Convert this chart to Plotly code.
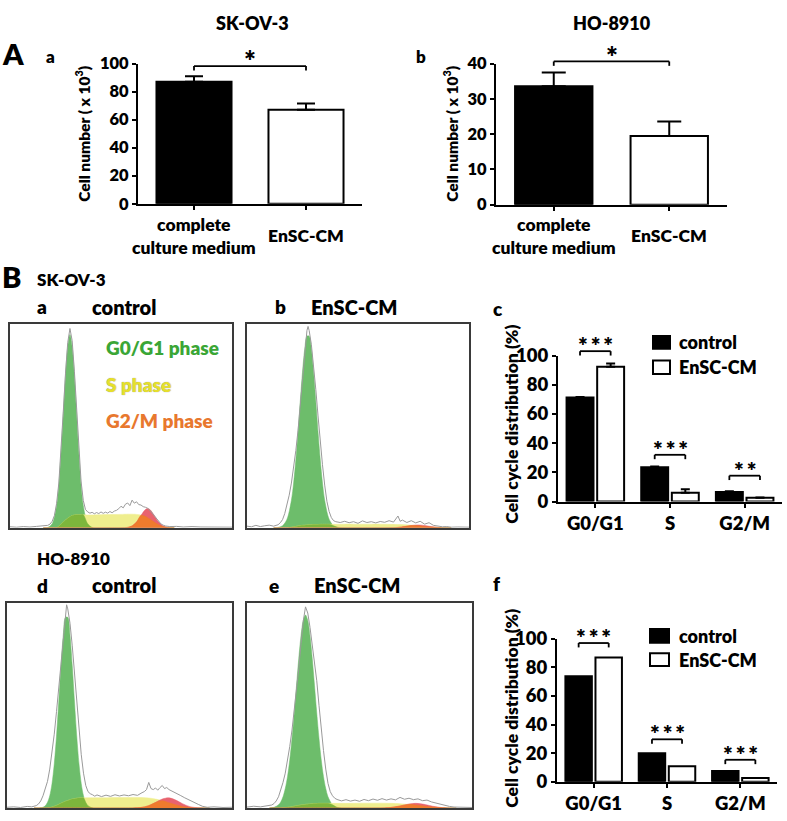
import plotly.graph_objects as go

W, H = 787, 821
FONT = "Lato"
WEIGHT = 800

# ---------------- data ----------------
# Panel A: cell numbers (x10^3)
CATS_A = ["complete<br>culture medium", "EnSC-CM"]
SKOV3_COUNT = [87.0, 67.0]
SKOV3_ERR = [4.0, 4.5]
HO8910_COUNT = [33.6, 19.5]
HO8910_ERR = [3.9, 4.1]
SIG_A = ["*", "*"]
BRACKET_A = [98.2, 40.6]          # bracket level, data units

# Panel B c / f: cell cycle distribution (%)
PHASES = ["G0/G1", "S", "G2/M"]
SKOV3_CTRL = [71.3, 23.4, 6.5]
SKOV3_CTRL_ERR = [0.3, 0.6, 0.5]
SKOV3_CM = [92.3, 6.0, 2.5]
SKOV3_CM_ERR = [2.2, 2.4, 0.3]
SIG_SKOV3 = ["***", "***", "**"]
BRACKET_SKOV3 = [103.0, 32.0, 17.7]
HO_CTRL = [73.7, 20.0, 7.5]
HO_CM = [86.8, 10.9, 2.7]
SIG_HO = ["***", "***", "***"]
BRACKET_HO = [97.0, 29.7, 15.4]
LEGEND_NAMES = ["control", "EnSC-CM"]

# Flow cytometry histograms (x: % of DNA-content axis, y: % of box height)
GRID_A = [15, 17, 19, 21, 22, 23, 24, 25, 26, 27, 28, 29, 30, 31, 32, 33, 35, 37, 40, 45, 50,
          53, 55, 57, 59, 61, 62, 63, 65, 67, 69, 71, 74]
G1_A = [0, 0.2, 2, 11, 21, 37, 56, 75, 89, 95, 89, 75, 56, 37, 21, 11, 2, 0.2, 0, 0, 0,
        0, 0, 0, 0, 0, 0, 0, 0, 0, 0, 0, 0]
S_A = [0, 0, 0, 0, 0.8, 1.8, 2.8, 3.8, 4.7, 5.4, 6, 6.3, 6.4, 6.4, 6.4, 6.4, 6.3, 6.3, 6.4, 6.5, 6.6,
       6.7, 6.7, 6.6, 6.3, 5.6, 5, 4.3, 2.8, 1.5, 0.6, 0.2, 0]
G2_A = [0, 0, 0, 0, 0, 0, 0, 0, 0, 0, 0, 0, 0, 0, 0, 0, 0, 0, 0, 0, 0,
        0.2, 0.9, 2.8, 6.1, 9.0, 9.5, 9.0, 6.1, 2.8, 0.9, 0.2, 0]
GREY_A = [(0, 0.5), (3, 0.3), (6, 0.6), (9, 0.4), (12, 0.7), (15, 0.9), (17, 1.2), (18, 1.8), (19, 3.2),
          (20, 6), (21, 12), (22, 22), (23, 38), (24, 57), (25, 76), (26, 91), (27, 98), (28, 92),
          (29, 77), (30, 57), (31, 38), (32, 23), (33, 13.5), (34, 9), (35, 7.8), (36, 7.2), (37, 7.6),
          (38, 6.9), (39, 7.5), (40, 7), (41, 7.8), (42, 7.1), (43, 7.7), (44, 7.2), (45, 8), (46, 7.4),
          (47, 8.2), (48, 8.6), (49, 9.4), (50, 10.6), (51, 9.8), (52, 11.6), (53, 12.2), (54, 10.9),
          (55, 13.6), (56, 12.1), (57, 12.8), (58, 11.4), (59, 11.2), (60, 10.4), (61, 10.1), (62, 9.6),
          (63, 8.6), (64, 7.2), (65, 5.6), (66, 4.1), (67, 2.9), (68, 1.9), (69, 1.3), (70, 0.9),
          (72, 0.6), (75, 0.7), (78, 0.4), (82, 0.6), (86, 0.4), (90, 0.3), (95, 0.4), (100, 0.3)]

GRID_B = [12, 14, 16, 18, 20, 21, 22, 23, 24, 25, 26, 27, 28, 29, 30, 31, 32, 33, 34, 35, 37, 39, 41,
          44, 48, 52, 56, 60, 64, 68, 71, 74, 77, 80, 83, 86, 89, 92]
G1_B = [0, 0.2, 1.0, 4.2, 13.5, 22, 33.4, 47.1, 62.2, 76.5, 87.9, 94.2, 94.2, 87.9, 76.5, 62.2, 47.1,
        33.4, 22, 13.5, 4.2, 1.0, 0.2, 0, 0, 0, 0, 0, 0, 0, 0, 0, 0, 0, 0, 0, 0, 0]
S_B = [0, 0, 0, 0, 0.3, 0.5, 0.7, 0.9, 1.1, 1.2, 1.3, 1.4, 1.5, 1.5, 1.6, 1.6, 1.6, 1.7, 1.7, 1.7,
       1.7, 1.7, 1.7, 1.8, 1.8, 1.8, 1.8, 1.8, 1.7, 1.6, 1.5, 1.3, 1.0, 0.7, 0.4, 0.2, 0, 0]
G2_B = [0, 0, 0, 0, 0, 0, 0, 0, 0, 0, 0, 0, 0, 0, 0, 0, 0, 0, 0, 0, 0, 0, 0, 0, 0, 0, 0, 0,
        0.02, 0.19, 0.58, 1.12, 1.4, 1.12, 0.58, 0.19, 0.02, 0]
GREY_B = [(0, 0.8), (2, 0.5), (4, 1.2), (6, 0.6), (8, 1.0), (10, 1.3), (12, 0.8), (14, 1.5), (15, 2.5),
          (16, 4), (17, 7), (18, 11), (19, 16), (20, 22), (21, 29), (22, 38), (23, 48), (24, 60),
          (25, 74), (26, 86), (27, 97), (27.5, 99), (28, 97), (29, 90), (30, 80), (31, 68), (32, 55),
          (33, 42), (34, 31), (35, 21), (36, 13), (37, 8), (38, 5), (39, 3.5), (40, 3), (42, 2.6),
          (44, 3.2), (46, 2.5), (48, 3), (50, 2.2), (52, 3.4), (54, 2.6), (56, 3), (58, 2.4), (60, 3.1),
          (62, 2.7), (64, 3.5), (66, 2.8), (68, 5.8), (69, 3.2), (70, 3.8), (72, 2.6), (74, 3.5),
          (76, 2.4), (78, 3.2), (80, 1.8), (82, 2.5), (84, 1.2), (86, 0.8), (88, 0.5), (90, 0.6),
          (92, 0.3), (95, 0.4), (100, 0.3)]

GRID_D = [12, 14, 16, 17, 18, 19, 20, 21, 22, 23, 24, 25, 26, 27, 28, 29, 30, 31, 32, 33, 34, 35, 36,
          38, 40, 44, 48, 52, 56, 60, 63, 66, 69, 72, 75, 78, 81, 84, 87, 90]
G1_D = [0, 0, 0.4, 1.1, 2.8, 6.0, 11.9, 21.5, 35, 51.7, 69.3, 84.2, 92.9, 92.9, 84.2, 69.3, 51.7, 35,
        21.5, 11.9, 6.0, 2.8, 1.1, 0.1, 0, 0, 0, 0, 0, 0, 0, 0, 0, 0, 0, 0, 0, 0, 0, 0]
S_D = [0, 0, 0, 0, 0, 0.2, 0.5, 0.9, 1.3, 1.8, 2.3, 2.8, 3.3, 3.7, 4.1, 4.4, 4.6, 4.8, 4.9, 5, 5, 5, 5,
       5, 5, 5, 5.1, 5.1, 5.2, 5.1, 4.9, 4.4, 3.6, 2.6, 1.6, 0.8, 0.3, 0, 0, 0]
G2_D = [0, 0, 0, 0, 0, 0, 0, 0, 0, 0, 0, 0, 0, 0, 0, 0, 0, 0, 0, 0, 0, 0, 0, 0, 0, 0, 0, 0,
        0.04, 0.36, 1.18, 2.73, 4.4, 4.98, 3.9, 2.15, 0.82, 0.22, 0.04, 0]
GREY_D = [(0, 0.4), (3, 0.6), (6, 0.3), (9, 0.8), (11, 0.6), (13, 1.2), (14, 2), (15, 3.5), (16, 6),
          (17, 9), (18, 13), (19, 19), (20, 27), (21, 36), (22, 47), (23, 59), (24, 72), (25, 85),
          (26, 95), (26.5, 99), (27, 97), (28, 90), (29, 79), (30, 66), (31, 52), (32, 38), (33, 26),
          (34, 17), (35, 11), (36, 8), (37, 7), (38, 6.5), (39, 5.8), (40, 6.4), (42, 5.6), (44, 6.3),
          (46, 5.7), (48, 6.5), (50, 5.9), (52, 6.4), (54, 6), (56, 6.6), (58, 6.2), (60, 7.5), (61, 8),
          (62, 9), (63, 12.5), (64, 9.5), (65, 9), (66, 9.8), (67, 8.7), (68, 10), (69, 11), (70, 9.5),
          (71, 10), (72, 9), (73, 8.5), (74, 8), (75, 7.5), (77, 6.2), (79, 5), (81, 3.8), (83, 2.8),
          (85, 1.8), (87, 0.8), (89, 0.4), (92, 0.6), (96, 0.3), (100, 0.4)]

GRID_E = [10, 12, 14, 15, 16, 17, 18, 19, 20, 21, 22, 23, 24, 25, 26, 27, 28, 29, 30, 31, 32, 33, 34,
          35, 36, 38, 40, 42, 46, 50, 55, 60, 64, 68, 72, 75, 78, 81, 84, 87, 90, 93]
G1_E = [0.07, 0.36, 1.6, 3.0, 5.5, 9.5, 15.3, 23.4, 33.9, 46.3, 59.7, 72.8, 83.9, 91.4, 94, 91.4, 83.9,
        72.8, 59.7, 46.3, 33.9, 23.4, 15.3, 9.5, 5.5, 1.6, 0.36, 0.07,
        0, 0, 0, 0, 0, 0, 0, 0, 0, 0, 0, 0, 0, 0]
S_E = [0, 0, 0, 0, 0.1, 0.2, 0.35, 0.5, 0.7, 0.9, 1.1, 1.3, 1.5, 1.6, 1.8, 1.9, 2.0, 2.1, 2.2, 2.2, 2.3,
       2.3, 2.3, 2.3, 2.3, 2.3, 2.3, 2.3, 2.3, 2.4, 2.4, 2.4, 2.3, 2.1, 1.8, 1.5, 1.1, 0.7, 0.4, 0.15, 0, 0]
G2_E = [0, 0, 0, 0, 0, 0, 0, 0, 0, 0, 0, 0, 0, 0, 0, 0, 0, 0, 0, 0, 0, 0, 0, 0, 0, 0, 0, 0, 0, 0, 0,
        0.06, 0.31, 1.02, 1.98, 2.3, 1.98, 1.27, 0.6, 0.21, 0.06, 0]
GREY_E = [(0, 0.5), (3, 0.9), (6, 0.6), (9, 1.2), (11, 1.5), (12, 2.2), (13, 3.5), (14, 5.5), (15, 8.5),
          (16, 12.5), (17, 17), (18, 23), (19, 30), (20, 38), (21, 47), (22, 57), (23, 68), (24, 80),
          (25, 91), (26, 98), (27, 95), (28, 88), (29, 80), (30, 72), (31, 62), (32, 50), (33, 38),
          (34, 28), (35, 19), (36, 12), (37, 8), (38, 6), (39, 4.8), (40, 4.2), (42, 3.5), (44, 4.1),
          (46, 3.4), (48, 3.9), (50, 3.3), (52, 4.2), (54, 3.6), (56, 4.4), (58, 3.8), (60, 4.6),
          (62, 3.9), (64, 4.5), (66, 4), (68, 5.2), (70, 4.3), (72, 4.8), (74, 4.1), (76, 4.5), (78, 3.6),
          (80, 3.9), (82, 3), (84, 2.4), (86, 1.8), (88, 1.2), (90, 0.8), (92, 0.5), (95, 0.4), (100, 0.3)]

for g, a, b, c in [(GRID_A, G1_A, S_A, G2_A), (GRID_B, G1_B, S_B, G2_B),
                   (GRID_D, G1_D, S_D, G2_D), (GRID_E, G1_E, S_E, G2_E)]:
    assert len(g) == len(a) == len(b) == len(c), (len(g), len(a), len(b), len(c))

# ---------------- styling ----------------
C_G1 = "#6dbd6b"
C_G1S = "#7db63c"
C_S = "#efee8e"
C_G2 = "#e8636f"
C_SG2 = "#ef7b2d"
C_RAW = "#9a9a9a"


def dx(a, b):
    return [a / W, b / W]


def dy(top, bottom):
    return [1 - bottom / H, 1 - top / H]


def bold(size, color="black"):
    return dict(family=FONT, size=size, color=color, weight=WEIGHT)


annotations = []
shapes = []


def txt(s, x, y, size, color="black", xanchor="left", yanchor="middle", angle=0, font_extra=None):
    f = bold(size, color)
    if font_extra:
        f.update(font_extra)
    annotations.append(dict(text=s, x=x / W, y=1 - y / H, xref="paper", yref="paper",
                            showarrow=False, xanchor=xanchor, yanchor=yanchor,
                            textangle=angle, font=f, borderpad=0))


fig = go.Figure()
layout = dict(width=W, height=H, margin=dict(l=0, r=0, t=0, b=0), autosize=False,
              paper_bgcolor="white", plot_bgcolor="rgba(0,0,0,0)",
              showlegend=False, barmode="group", bargap=0.18, bargroupgap=0.12)

# axis geometry (pixels)
AX = {
    1: dict(x=(138, 362), y=(53, 197), kind="barA", yr=(0, 100), ticks=list(range(0, 101, 20))),
    2: dict(x=(496, 727), y=(53, 198), kind="barA", yr=(0, 40), ticks=list(range(0, 41, 10))),
    3: dict(x=(10, 232), y=(321, 530), kind="box"),
    4: dict(x=(247, 469), y=(321, 530), kind="box"),
    5: dict(x=(558, 782), y=(353, 503), kind="barB", yr=(0, 100), ticks=list(range(0, 101, 20))),
    6: dict(x=(7, 232), y=(607, 818), kind="box"),
    7: dict(x=(247, 472), y=(607, 818), kind="box"),
    8: dict(x=(557, 777), y=(644, 791), kind="barB", yr=(0, 100), ticks=list(range(0, 101, 20))),
}


def name(k, axis):
    return axis if k == 1 else f"{axis}{k}"


for k, a in AX.items():
    xa = dict(domain=dx(*a["x"]), anchor=name(k, "y"), showgrid=False, zeroline=False, fixedrange=True)
    ya = dict(domain=dy(*a["y"]), anchor=name(k, "x"), showgrid=False, zeroline=False, fixedrange=True)
    if a["kind"] == "box":
        for d in (xa, ya):
            d.update(range=[0, 100], showticklabels=False, ticks="", showline=True, mirror=True,
                     linecolor="#3a3a3a", linewidth=2)
    else:
        n = 2 if a["kind"] == "barA" else 3
        xa.update(type="category", range=[-0.5, n - 0.5], showline=True, linecolor="black", linewidth=2,
                  ticks="outside", ticklen=4, tickwidth=2, tickcolor="black",
                  showticklabels=(a["kind"] == "barB"), tickfont=bold(18.5))
        ya.update(range=list(a["yr"]), tickvals=a["ticks"], showline=True, linecolor="black", linewidth=2,
                  ticks="outside", ticklen=4, tickwidth=2, tickcolor="black",
                  tickfont=bold(16.5 if a["kind"] == "barA" else 18.5))
    layout["xaxis" if k == 1 else f"xaxis{k}"] = xa
    layout["yaxis" if k == 1 else f"yaxis{k}"] = ya


def to_px(k, cat, val, n):
    a = AX[k]
    x0, x1 = a["x"]
    ytop, ybot = a["y"]
    px = x0 + (cat + 0.5) / n * (x1 - x0)
    lo, hi = a["yr"]
    py = ybot - (val - lo) / (hi - lo) * (ybot - ytop)
    return px, py


def bracket(k, c1, c2, level, n, star, star_size):
    x1, py = to_px(k, c1, level, n)
    x2, _ = to_px(k, c2, level, n)
    tick = 4.5
    for (xa, ya, xb, yb) in [(x1, py + tick, x1, py), (x1, py, x2, py), (x2, py, x2, py + tick)]:
        shapes.append(dict(type="line", xref="paper", yref="paper", x0=xa / W, y0=1 - ya / H,
                           x1=xb / W, y1=1 - yb / H, line=dict(color="black", width=1.8)))
    txt("\u2009".join(star), (x1 + x2) / 2, py - 6, star_size, xanchor="center")


# ---------------- Panel A bars ----------------
for k, vals, errs, cap in [(1, SKOV3_COUNT, SKOV3_ERR, 9), (2, HO8910_COUNT, HO8910_ERR, 12)]:
    fig.add_trace(go.Bar(x=CATS_A, y=vals, width=0.67,
                         marker=dict(color=["black", "white"], line=dict(color="black", width=2)),
                         error_y=dict(type="data", array=errs, arrayminus=[0] * len(errs), symmetric=False,
                                      color="black", thickness=2, width=cap),
                         xaxis=name(k, "x"), yaxis=name(k, "y"), hoverinfo="skip"))
    bracket(k, 0, 1, BRACKET_A[k - 1], 2, SIG_A[k - 1], 28)
    for i, lab in enumerate(CATS_A):
        px, _ = to_px(k, i, 0, 2)
        txt(lab, px, 230, 17.5, xanchor="center")

# ---------------- Panel B bars ----------------
OFF = (1 - 0.18) / 4
for k, ctrl, cerr, cm, cmerr, sig, br in [
        (5, SKOV3_CTRL, SKOV3_CTRL_ERR, SKOV3_CM, SKOV3_CM_ERR, SIG_SKOV3, BRACKET_SKOV3),
        (8, HO_CTRL, None, HO_CM, None, SIG_HO, BRACKET_HO)]:
    for vals, errs, col in [(ctrl, cerr, "black"), (cm, cmerr, "white")]:
        eb = dict(visible=False)
        if errs is not None:
            eb = dict(type="data", array=errs, arrayminus=[0] * len(errs), symmetric=False,
                      color="black", thickness=2, width=4.5)
        fig.add_trace(go.Bar(x=PHASES, y=vals, marker=dict(color=col, line=dict(color="black", width=2)),
                             error_y=eb, xaxis=name(k, "x"), yaxis=name(k, "y"), hoverinfo="skip"))
    for i in range(len(PHASES)):
        bracket(k, i - OFF, i + OFF, br[i], 3, sig[i], 23)

# ---------------- Flow histograms ----------------
for k, grid, g1, s, g2, grey in [(3, GRID_A, G1_A, S_A, G2_A, GREY_A), (4, GRID_B, G1_B, S_B, G2_B, GREY_B),
                                 (6, GRID_D, G1_D, S_D, G2_D, GREY_D), (7, GRID_E, G1_E, S_E, G2_E, GREY_E)]:
    ov1 = [min(a, b) for a, b in zip(g1, s)]
    ov2 = [min(a, b) for a, b in zip(s, g2)]
    for ys, col in [(g1, C_G1), (s, C_S), (ov1, C_G1S), (g2, C_G2), (ov2, C_SG2)]:
        fig.add_trace(go.Scatter(x=grid, y=ys, mode="lines", fill="tozeroy", fillcolor=col,
                                 line=dict(color=col, width=0.5, shape="spline", smoothing=0.9),
                                 xaxis=name(k, "x"), yaxis=name(k, "y"), hoverinfo="skip"))
    gx = [p[0] for p in grey]
    gy = [p[1] for p in grey]
    fig.add_trace(go.Scatter(x=gx, y=gy, mode="lines", line=dict(color=C_RAW, width=1),
                             xaxis=name(k, "x"), yaxis=name(k, "y"), hoverinfo="skip"))

# ---------------- text ----------------
txt("A", 1, 43, 29)
txt("a", 45, 46, 17)
txt("SK-OV-3", 252, 11, 18, xanchor="center")
txt("HO-8910", 612, 11, 18, xanchor="center")
txt("b", 415, 46, 17)
txt("Cell number ( x 10<sup>3</sup>)", 83, 125, 15.5, xanchor="center", angle=-90)
txt("Cell number ( x 10<sup>3</sup>)", 451, 125, 15.5, xanchor="center", angle=-90)

txt("B", 1, 272, 29)
txt("SK-OV-3", 36, 275, 17)
txt("a", 36, 303, 19)
txt("control", 91, 303, 20)
txt("b", 274, 303, 19)
txt("EnSC-CM", 310, 303, 20)
txt("G0/G1 phase", 105, 345, 19, color="#3aa636")
txt("S phase", 105, 383, 19, color="#e6df2c", font_extra=dict(shadow="0px 0px 1px #8a8a8a"))
txt("G2/M phase", 105, 420, 19, color="#e8782e")
txt("c", 492, 305, 19)
txt("Cell cycle distribution (%)", 512, 424, 17.5, xanchor="center", angle=-90)

txt("HO-8910", 36, 562, 17)
txt("d", 36, 589, 19)
txt("control", 91, 589, 20)
txt("e", 268, 589, 19)
txt("EnSC-CM", 313, 589, 20)
txt("f", 492, 587, 19)
txt("Cell cycle distribution (%)", 512, 716, 17.5, xanchor="center", angle=-90)

# legends (c, f)
for (lx0, lx1, r1, r2, tx) in [(653, 670, (333, 346), (358, 372), 678), (650, 669, (634, 648), (659, 672), 678)]:
    for (t, b), col, lab in [(r1, "black", LEGEND_NAMES[0]), (r2, "white", LEGEND_NAMES[1])]:
        shapes.append(dict(type="rect", xref="paper", yref="paper", x0=lx0 / W, x1=lx1 / W,
                           y0=1 - b / H, y1=1 - t / H, fillcolor=col, line=dict(color="black", width=2)))
        txt(lab, tx, (t + b) / 2, 18)

layout["annotations"] = annotations
layout["shapes"] = shapes
fig.update_layout(**layout)
fig.write_html("out.html", config={"displayModeBar": False},
               post_script="document.body.style.margin='0px';document.body.style.padding='0px';"
                           "document.body.style.overflow='hidden';")
